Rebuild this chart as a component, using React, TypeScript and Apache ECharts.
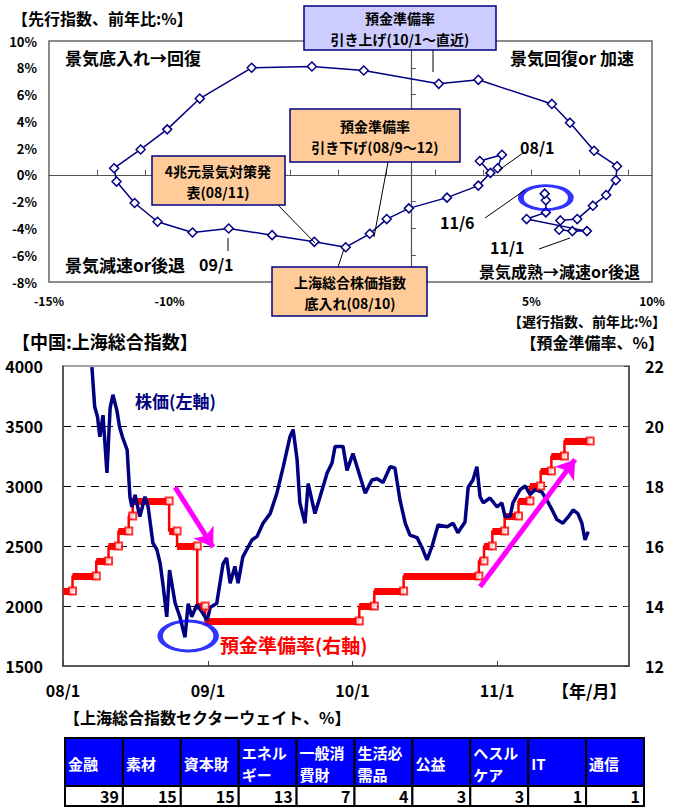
import React, { useEffect, useRef } from 'react';
import * as echarts from 'echarts';

const FONT = '"Noto Sans CJK JP", "Noto Sans", sans-serif';

// Business-cycle clock: monthly YoY % of lagging (x) and leading (y) index, 08/1 .. 11/6
const cycleMonths = [
  '08/1', '08/2', '08/3', '08/4', '08/5', '08/6', '08/7', '08/8', '08/9', '08/10', '08/11', '08/12',
  '09/1', '09/2', '09/3', '09/4', '09/5', '09/6', '09/7', '09/8', '09/9', '09/10', '09/11', '09/12',
  '10/1', '10/2', '10/3', '10/4', '10/5', '10/6', '10/7', '10/8', '10/9', '10/10', '10/11', '10/12',
  '11/1', '11/2', '11/3', '11/4', '11/5', '11/6',
];
const laggingIndex = [
  3.6, 3.78, 2.86, 3.3, 2.8, 1.5, -0.08, -1.0, -1.7, -2.7, -4.0, -5.75,
  -7.55, -9.05, -10.5, -11.45, -12.2, -12.3, -11.2, -10.1, -8.75, -6.6, -4.1, -1.95,
  1.16, 2.8, 5.85, 6.6, 7.6, 8.55, 8.5, 8.1, 7.55, 6.9, 6.2, 6.15,
  6.7, 7.3, 4.8, 5.6, 5.6, 5.55,
];
const leadingIndex = [
  0.5, 1.5, 1.04, 0.15, -0.8, -1.7, -2.5, -3.3, -4.4, -5.4, -5.0, -4.5,
  -4.0, -4.3, -3.5, -2.1, -0.5, 0.5, 1.9, 3.4, 5.7, 8.0, 8.1, 7.8,
  6.8, 7.1, 5.3, 3.9, 1.8, 0.65, -0.4, -1.5, -2.3, -3.3, -3.4, -4.1,
  -4.2, -4.2, -3.3, -2.8, -1.9, -1.4,
];
const cycleFocus = [5.6, -1.7];

// Shanghai Composite (left axis)
const stockDates = [
  '2008-03-14', '2008-03-21', '2008-03-28', '2008-04-03', '2008-04-11', '2008-04-21', '2008-04-29',
  '2008-05-06', '2008-05-16', '2008-05-23', '2008-05-30', '2008-06-11', '2008-06-18', '2008-06-23',
  '2008-07-01', '2008-07-13', '2008-07-26', '2008-08-03', '2008-08-15', '2008-08-25', '2008-09-02',
  '2008-09-09', '2008-09-19', '2008-09-26', '2008-10-10', '2008-10-22', '2008-11-04', '2008-11-12',
  '2008-11-21', '2008-12-04', '2008-12-17', '2008-12-30', '2009-01-07', '2009-01-23', '2009-02-08',
  '2009-02-17', '2009-02-26', '2009-03-10', '2009-03-18', '2009-03-30', '2009-04-22', '2009-05-05',
  '2009-05-20', '2009-06-07', '2009-06-24', '2009-07-10', '2009-07-27', '2009-08-04', '2009-08-14',
  '2009-08-21', '2009-09-03', '2009-09-11', '2009-09-28', '2009-10-11', '2009-10-29', '2009-11-10',
  '2009-11-18', '2009-12-08', '2009-12-18', '2010-01-02', '2010-01-20', '2010-02-02', '2010-02-19',
  '2010-03-04', '2010-03-19', '2010-04-06', '2010-04-18', '2010-05-01', '2010-05-14', '2010-05-26',
  '2010-06-13', '2010-06-25', '2010-07-08', '2010-07-21', '2010-08-05', '2010-08-28', '2010-09-12',
  '2010-09-24', '2010-10-12', '2010-10-20', '2010-11-01', '2010-11-11', '2010-11-19', '2010-11-27',
  '2010-12-14', '2011-01-01', '2011-01-13', '2011-01-21', '2011-02-03', '2011-02-10', '2011-02-28',
  '2011-03-13', '2011-03-25', '2011-04-07', '2011-04-24', '2011-05-07', '2011-05-20', '2011-06-01',
  '2011-06-16', '2011-06-29', '2011-07-12', '2011-07-24', '2011-08-03', '2011-08-11', '2011-08-19',
];
const stockValues = [
  3990, 3660, 3580, 3410, 3590, 3110, 3650,
  3760, 3630, 3490, 3410, 3300, 2910, 2825,
  2925, 2745, 2910, 2825, 2525, 2470, 2360,
  2190, 1910, 2300, 2025, 1910, 1740, 2020,
  1910, 2010, 1950, 1880, 1990, 2020, 2350,
  2400, 2190, 2330, 2190, 2410, 2550, 2580,
  2690, 2770, 2940, 3160, 3410, 3470, 3220,
  2860, 2690, 3020, 2770, 2910, 3110, 3190,
  3330, 3330, 3130, 3270, 3080, 2940, 3050,
  3060, 3030, 3160, 3150, 2880, 2690, 2590,
  2570, 2490, 2385, 2500, 2675, 2660, 2690,
  2610, 2700, 2990, 3050, 3160, 2910, 2860,
  2900, 2825, 2860, 2745, 2750, 2860, 2970,
  3000, 2930, 2970, 2950, 2880, 2800, 2720,
  2690, 2740, 2800, 2770, 2690, 2550, 2620,
];
const stockLow = ['2008-11-12', 1750];

// Reserve requirement ratio (right axis): effective dates and levels
const rrrDates = [
  '2008-01-01', '2008-01-25', '2008-03-25', '2008-04-25', '2008-05-20', '2008-06-15', '2008-06-25',
  '2008-09-25', '2008-10-15', '2008-12-05', '2008-12-25', '2010-01-18', '2010-02-25', '2010-05-10',
  '2010-11-16', '2010-11-29', '2010-12-20', '2011-01-20', '2011-02-24', '2011-03-25', '2011-04-21',
  '2011-05-18', '2011-06-20',
];
const rrrValues = [
  14.5, 15.0, 15.5, 16.0, 16.5, 17.0, 17.5,
  16.5, 16.0, 14.0, 13.5, 14.0, 14.5, 15.0,
  15.5, 16.0, 16.5, 17.0, 17.5, 18.0, 18.5,
  19.0, 19.5,
];
const rrrLastDate = '2011-08-24';

// Trend arrows: [start date, start level, end date, end level] on the left axis
const trendArrows: [string, number, string, number][] = [
  ['2008-10-10', 2990, '2009-01-14', 2490],
  ['2010-11-19', 2160, '2011-07-17', 3220],
];

const yearTicks = ['2008-01-01', '2009-01-01', '2010-01-01', '2011-01-01'];

// Sector weights of the Shanghai Composite
const sectorNames = ['金融', '素材', '資本財', 'エネルギー', '一般消費財', '生活必需品', '公益', 'ヘスルケア', 'IT', '通信'];
const sectorWeights = [39, 15, 15, 13, 7, 4, 3, 3, 1, 1];

const ts = (s: string) => {
  const [y, m, d] = s.split('-').map(Number);
  return new Date(y, m - 1, d).getTime();
};

const font = (size: number) => `bold ${size}px ${FONT}`;

const text = (
  t: string, x: number, y: number, size: number,
  fill = '#000', align = 'left', lineHeight?: number,
) => ({
  type: 'text',
  z: 100,
  silent: true,
  style: {
    text: t, x, y, font: font(size), fill, textAlign: align, textVerticalAlign: 'middle',
    ...(lineHeight ? { lineHeight } : {}),
  },
});

const box = (x: number, y: number, w: number, h: number, fill: string) => ({
  type: 'rect',
  z: 90,
  silent: true,
  shape: { x, y, width: w, height: h },
  style: { fill, stroke: '#000080', lineWidth: 1.5 },
});

const leader = (x1: number, y1: number, x2: number, y2: number) => ({
  type: 'line',
  z: 80,
  silent: true,
  shape: { x1, y1, x2, y2 },
  style: { stroke: '#000', lineWidth: 1 },
});

function buildOption() {
  const navy = '#000080';
  const red = '#FF0000';

  const rrrSteps: number[][] = rrrDates.map((d, i) => [ts(d), rrrValues[i]]);
  rrrSteps.push([ts(rrrLastDate), rrrValues[rrrValues.length - 1]]);
  const rrrBars = rrrDates.map((d, i) => ({
    coords: [
      [ts(d), rrrValues[i]],
      [ts(i + 1 < rrrDates.length ? rrrDates[i + 1] : rrrLastDate), rrrValues[i]],
    ],
  }));
  const rrrMarks = rrrDates.map((_, i) => [
    ts(i + 1 < rrrDates.length ? rrrDates[i + 1] : rrrLastDate),
    rrrValues[i],
  ]);

  // Sector table
  const tableLeft = 65;
  const tableRight = 644;
  const colW = (tableRight - tableLeft) / sectorNames.length;
  const headTop = 738;
  const headH = 48;
  const rowH = 20;
  const table: any[] = [];
  sectorNames.forEach((name, i) => {
    const x0 = tableLeft + i * colW;
    table.push({
      type: 'rect', z: 90, silent: true,
      shape: { x: x0, y: headTop, width: colW, height: headH },
      style: { fill: '#0000FF', stroke: '#000', lineWidth: 2 },
    });
    table.push({
      type: 'rect', z: 90, silent: true,
      shape: { x: x0, y: headTop + headH, width: colW, height: rowH },
      style: { fill: '#fff', stroke: '#000', lineWidth: 2 },
    });
    const label = name.length > 3 ? `${name.slice(0, 3)}\n${name.slice(3)}` : name;
    table.push(text(label, x0 + 3, headTop + headH / 2 + 1, 15, '#fff', 'left', 22));
    table.push(text(String(sectorWeights[i]), x0 + colW - 4, headTop + headH + rowH / 2, 16, '#000', 'right'));
  });

  const graphics: any[] = [
    // Top panel titles and quadrant labels
    text('【先行指数、前年比:%】', 12, 18, 16),
    text('【遅行指数、前年比:%】', 666, 321, 14, '#000', 'right'),
    text('景気底入れ→回復', 65, 57, 17),
    text('景気回復or 加速', 634, 57, 17, '#000', 'right'),
    text('景気減速or後退', 65, 264, 17),
    text('景気成熟→減速or後退', 640, 271, 16, '#000', 'right'),
    text('09/1', 199, 264, 16),
    text('08/1', 520, 147, 16),
    text('11/6', 440, 222, 16),
    text('11/1', 490, 247, 16),
    // Leader lines
    leader(228, 238, 228, 251),
    leader(433, 50, 433, 72),
    leader(523, 153, 499, 170),
    leader(485, 218, 525, 190),
    leader(539, 249, 570, 238),
    leader(388, 162, 374, 237),
    leader(278, 205, 315, 243),
    leader(338, 267, 344, 249),
    // Annotation boxes
    box(304, 6, 192, 44, '#CCCCFF'),
    text('預金準備率\n引き上げ(10/1～直近)', 400, 28, 14, '#000', 'center', 21),
    box(290, 109, 170, 53, '#FFCC99'),
    text('預金準備率\n引き下げ(08/9～12)', 375, 136, 14, '#000', 'center', 21),
    box(152, 156, 133, 49, '#FFCC99'),
    text('4兆元景気対策発\n表(08/11)', 218, 181, 14, '#000', 'center', 21),
    box(272, 267, 155, 49, '#FFCC99'),
    text('上海総合株価指数\n底入れ(08/10)', 350, 292, 14, '#000', 'center', 21),
    // Bottom panel titles
    text('【中国:上海総合指数】', 12, 341, 18),
    text('【預金準備率、%】', 664, 342, 16, '#000', 'right'),
    text('【年/月】', 552, 690, 17),
    text('株価(左軸)', 135, 400, 17, navy),
    text('預金準備率(右軸)', 220, 644, 19, red),
    // Table
    text('【上海総合指数セクターウェイト、%】', 64, 717, 16),
    ...table,
  ];

  const axisLabel = (size: number, extra: any = {}) => ({
    color: '#000',
    fontWeight: 'bold',
    fontFamily: FONT,
    fontSize: size,
    ...extra,
  });

  const oddTicks: number[] = [];
  for (let v = -13; v <= 9; v += 2) oddTicks.push(v);

  return {
    animation: false,
    backgroundColor: '#fff',
    textStyle: { fontFamily: FONT },
    grid: [
      { left: 49, top: 41, width: 603, height: 241, show: true, borderColor: '#666', borderWidth: 1.5, backgroundColor: 'transparent' },
      { left: 63, top: 366, width: 566, height: 300, show: true, borderColor: '#888', borderWidth: 1.5, backgroundColor: 'transparent' },
    ],
    xAxis: [
      {
        gridIndex: 0, type: 'value', min: -15, max: 10, interval: 5, position: 'bottom',
        axisLine: { show: false, onZero: false }, axisTick: { show: false }, splitLine: { show: false },
        axisLabel: axisLabel(12, { margin: 12, formatter: (v: number) => (v === 0 || v === -5 ? '' : `${v}%`) }),
      },
      {
        gridIndex: 0, type: 'value', min: -15, max: 10, position: 'top',
        axisLine: { show: true, onZero: true, lineStyle: { color: '#555', width: 1.2 } },
        axisTick: { show: true, inside: false, length: 5, customValues: oddTicks, lineStyle: { color: '#555' } },
        axisLabel: { show: false }, splitLine: { show: false },
      },
      {
        gridIndex: 1, type: 'value', min: ts('2008-01-01'), max: ts('2011-11-30'), position: 'bottom',
        axisLine: { show: true, onZero: false, lineStyle: { color: '#404040', width: 1.5 } },
        axisTick: { show: true, inside: true, length: 5, customValues: yearTicks.map(ts), lineStyle: { color: '#404040' } },
        splitLine: { show: false },
        axisLabel: axisLabel(16, {
          margin: 16,
          customValues: yearTicks.map(ts),
          formatter: (v: number) => {
            const d = new Date(v);
            return `${String(d.getFullYear()).slice(2)}/${d.getMonth() + 1}`;
          },
        }),
      },
    ],
    yAxis: [
      {
        gridIndex: 0, type: 'value', min: -8, max: 10, interval: 2, position: 'left',
        axisLine: { show: false, onZero: false }, axisTick: { show: false }, splitLine: { show: false },
        axisLabel: axisLabel(13, { margin: 12, formatter: (v: number) => `${v}%` }),
      },
      {
        gridIndex: 0, type: 'value', min: -8, max: 10, interval: 2, position: 'right',
        axisLine: { show: true, onZero: true, lineStyle: { color: '#555', width: 1.2 } },
        axisTick: { show: true, inside: false, length: 5, lineStyle: { color: '#555' } },
        axisLabel: { show: false }, splitLine: { show: false },
      },
      {
        gridIndex: 1, type: 'value', min: 1500, max: 4000, interval: 500, position: 'left',
        axisLine: { show: true, onZero: false, lineStyle: { color: '#404040', width: 1.5 } },
        axisTick: { show: false },
        splitLine: { show: true, showMinLine: false, showMaxLine: false, lineStyle: { color: '#000', type: [8, 6], width: 1 } },
        axisLabel: axisLabel(16, { margin: 20, formatter: (v: number) => String(v) }),
      },
      {
        gridIndex: 1, type: 'value', min: 12, max: 22, interval: 2, position: 'right',
        axisLine: { show: true, onZero: false, lineStyle: { color: '#404040', width: 1.5 } },
        axisTick: { show: true, inside: true, length: 5, lineStyle: { color: '#404040' } },
        splitLine: { show: false },
        axisLabel: axisLabel(16, { margin: 16 }),
      },
    ],
    series: [
      {
        name: 'cycle',
        type: 'line',
        xAxisIndex: 0, yAxisIndex: 0,
        data: laggingIndex.map((x, i) => ({ name: cycleMonths[i], value: [x, leadingIndex[i]] })),
        symbol: 'diamond', symbolSize: 9,
        itemStyle: { color: '#fff', borderColor: navy, borderWidth: 1.5 },
        lineStyle: { color: navy, width: 1.5 },
        z: 3,
      },
      {
        name: 'cycleFocus',
        type: 'scatter',
        xAxisIndex: 0, yAxisIndex: 0,
        data: [cycleFocus],
        symbol: 'circle', symbolSize: [50, 24],
        itemStyle: { color: 'rgba(0,0,0,0)', borderColor: '#0000FF', borderWidth: 4 },
        z: 4,
      },
      {
        name: 'rrrBars',
        type: 'lines',
        coordinateSystem: 'cartesian2d',
        xAxisIndex: 2, yAxisIndex: 3,
        data: rrrBars,
        lineStyle: { color: red, width: 7, opacity: 1 },
        z: 2,
      },
      {
        name: 'rrrStep',
        type: 'line',
        step: 'end',
        xAxisIndex: 2, yAxisIndex: 3,
        data: rrrSteps,
        showSymbol: false,
        lineStyle: { color: red, width: 2.5 },
        z: 2,
      },
      {
        name: 'rrrMarks',
        type: 'scatter',
        xAxisIndex: 2, yAxisIndex: 3,
        data: rrrMarks,
        symbol: 'rect', symbolSize: 7,
        itemStyle: { color: '#fff', borderColor: red, borderWidth: 2 },
        z: 5,
      },
      {
        name: 'stock',
        type: 'line',
        xAxisIndex: 2, yAxisIndex: 2,
        data: stockDates.map((d, i) => [ts(d), stockValues[i]]),
        showSymbol: false,
        lineStyle: { color: navy, width: 3.5 },
        z: 3,
        markLine: {
          silent: true,
          symbol: ['none', 'arrow'],
          symbolSize: 18,
          label: { show: false },
          lineStyle: { color: '#FF00FF', width: 5, type: 'solid' },
          data: trendArrows.map(([d1, v1, d2, v2]) => [
            { coord: [ts(d1), v1] },
            { coord: [ts(d2), v2] },
          ]),
        },
      },
      {
        name: 'stockLow',
        type: 'scatter',
        xAxisIndex: 2, yAxisIndex: 2,
        data: [[ts(stockLow[0] as string), stockLow[1] as number]],
        symbol: 'circle', symbolSize: [56, 30],
        itemStyle: { color: 'rgba(0,0,0,0)', borderColor: '#0000FF', borderWidth: 4 },
        z: 6,
      },
    ],
    graphic: graphics,
  };
}

export default function App() {
  const ref = useRef<HTMLDivElement>(null);
  useEffect(() => {
    if (!ref.current) return;
    const chart = echarts.init(ref.current, null, { renderer: 'svg' });
    chart.setOption(buildOption() as any);
    return () => chart.dispose();
  }, []);
  return (
    <div
      ref={ref}
      style={{ position: 'absolute', left: 0, top: 0, width: 685, height: 808, background: '#fff' }}
    />
  );
}
